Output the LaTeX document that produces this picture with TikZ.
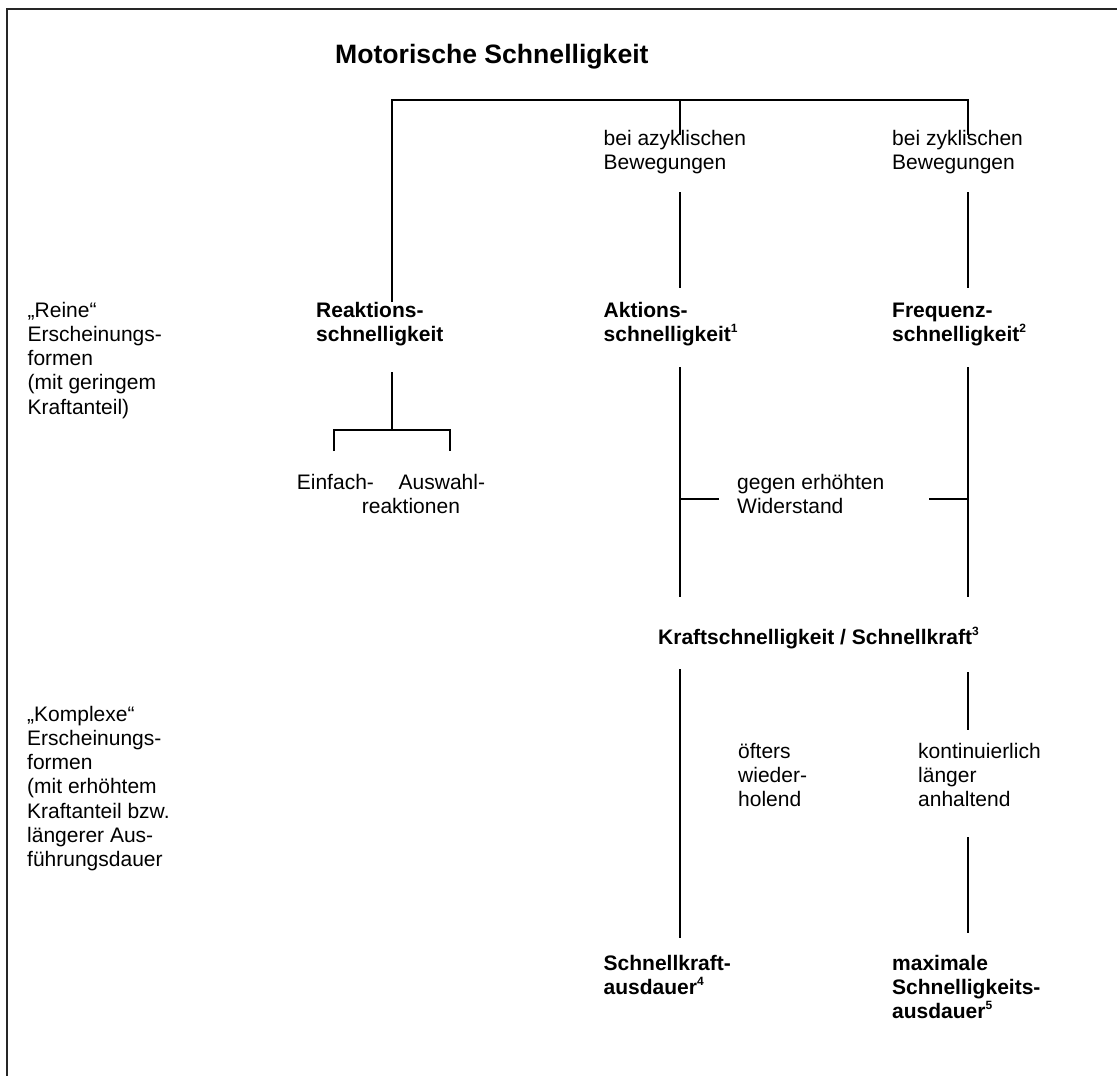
\documentclass[tikz,border=0pt]{standalone}
\usepackage{fontspec}
\setmainfont{Liberation Sans}
\newcommand{\supnum}[1]{\raisebox{0.42em}{\fontsize{12}{12}\selectfont #1}}
\begin{document}
\begin{tikzpicture}[x=1pt,y=-1pt,
  txt/.style={anchor=base west,inner sep=0pt,align=left,font=\fontsize{21}{24.3}\selectfont},
  btxt/.style={txt,font=\fontsize{21}{24.3}\selectfont\bfseries},
  conn/.style={line width=1.3pt},
  frame/.style={line width=2pt,black!85}]
\useasboundingbox (0,0) rectangle (1117,1076);
% frame (top and left only)
\coordinate (fb) at (7,1076);
\coordinate (ftl) at (7,9);
\coordinate (ftr) at (1117,9);
\draw[frame] (fb) -- (ftl) -- (ftr);
% texts (anchor = baseline of the last line)
\node[txt,font=\fontsize{26.6}{30}\selectfont\bfseries] (title) at (335,63) {Motorische Schnelligkeit};
\node[btxt] (reakt) at (316,341.5) {Reaktions-\\schnelligkeit};
\node[txt] (azyk) at (603.5,169.3) {bei azyklischen\\Bewegungen};
\node[txt] (zyk) at (892,169.3) {bei zyklischen\\Bewegungen};
\node[btxt] (akt) at (603.5,341.5) {Aktions-\\schnelligkeit\supnum{1}};
\node[btxt] (freq) at (892,341.5) {Frequenz-\\schnelligkeit\supnum{2}};
\node[txt] (einf) at (296.7,489) {Einfach-};
\node[txt] (ausw) at (398.5,489) {Auswahl-};
\node[txt] (reakt2) at (361.7,513) {reaktionen};
\node[txt] (gegen) at (737,513.3) {gegen erhöhten\\Widerstand};
\node[btxt] (kraft) at (658,644) {Kraftschnelligkeit / Schnellkraft\supnum{3}};
\node[txt] (oft) at (738,806.6) {öfters\\wieder-\\holend};
\node[txt] (kont) at (918,806.6) {kontinuierlich\\länger\\anhaltend};
\node[btxt] (ska) at (603.5,994.3) {Schnellkraft-\\ausdauer\supnum{4}};
\node[btxt] (maxs) at (892,1018.6) {maximale\\Schnelligkeits-\\ausdauer\supnum{5}};
\node[txt] (reine) at (27.5,414.2) {„Reine“\\Erscheinungs-\\formen\\(mit geringem\\Kraftanteil)};
\node[txt] (komplex) at (27,866.8) {„Komplexe“\\Erscheinungs-\\formen\\(mit erhöhtem\\Kraftanteil bzw.\\längerer Aus-\\führungsdauer};
% connector coordinates
\coordinate (rT) at (392,302);
\coordinate (tl) at (392,100);
\coordinate (tm) at (680,100);
\coordinate (tr) at (968,100);
\coordinate (mE) at (680,135);
\coordinate (rE) at (968,135);
\coordinate (a1) at (680,192); \coordinate (a2) at (680,288);
\coordinate (f1) at (968,192); \coordinate (f2) at (968,288);
\coordinate (r1) at (392,372); \coordinate (r2) at (392,430);
\coordinate (bl) at (334,430); \coordinate (br) at (450,430);
\coordinate (blE) at (334,451); \coordinate (brE) at (450,451);
\coordinate (a3) at (680,367); \coordinate (a4) at (680,597);
\coordinate (f3) at (968,367); \coordinate (f4) at (968,597);
\coordinate (ta) at (680,499); \coordinate (taE) at (719,499);
\coordinate (tf) at (968,499); \coordinate (tfE) at (929,499);
\coordinate (k1) at (680,669); \coordinate (k2) at (680,938);
\coordinate (k3) at (968,672); \coordinate (k4) at (968,730);
\coordinate (k5) at (968,837); \coordinate (k6) at (968,933);
% connectors
\draw[conn] (rT) -- (tl) -- (tr) -- (rE);
\draw[conn] (tm) -- (mE);
\draw[conn] (a1) -- (a2);
\draw[conn] (f1) -- (f2);
\draw[conn] (r1) -- (r2);
\draw[conn] (blE) -- (bl) -- (br) -- (brE);
\draw[conn] (a3) -- (a4);
\draw[conn] (f3) -- (f4);
\draw[conn] (ta) -- (taE);
\draw[conn] (tf) -- (tfE);
\draw[conn] (k1) -- (k2);
\draw[conn] (k3) -- (k4);
\draw[conn] (k5) -- (k6);
\end{tikzpicture}
\end{document}
